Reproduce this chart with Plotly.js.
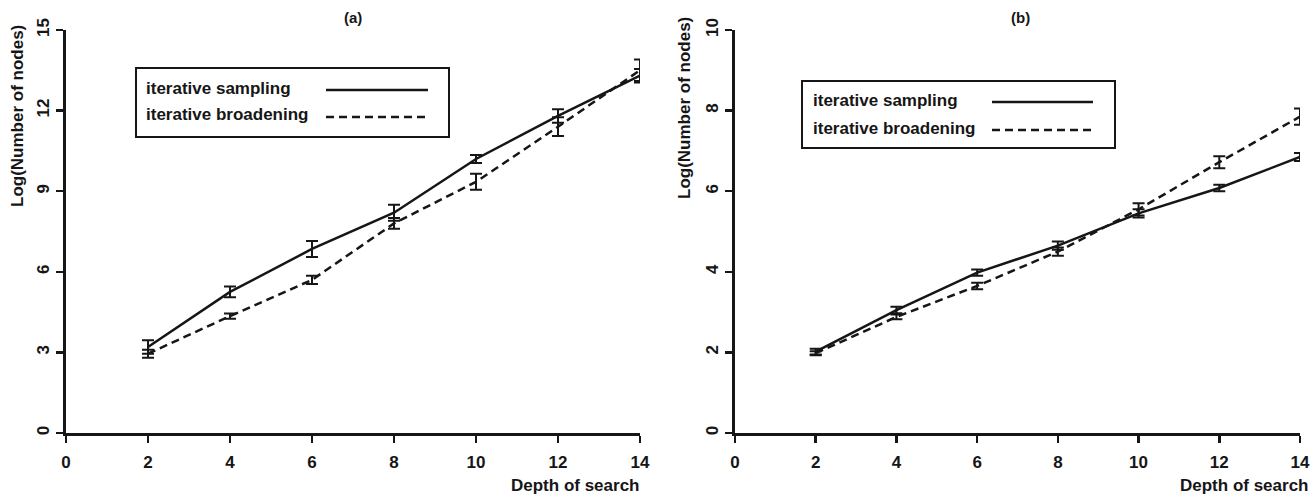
<!DOCTYPE html>
<html>
<head>
<meta charset="utf-8">
<script src="https://cdn.plot.ly/plotly-3.0.1.min.js"></script>
<style>html,body{margin:0;padding:0;background:#fff;} #chart{width:1313px;height:497px;}</style>
</head>
<body>
<div id="chart"></div>
<script>
// ---- data ----
const depth = [2, 4, 6, 8, 10, 12, 14];
const xTicks = [0, 2, 4, 6, 8, 10, 12, 14];

// panel (a)
const aSampling = [3.2, 5.25, 6.85, 8.2, 10.2, 11.8, 13.3];
const aSamplingErr = [0.25, 0.2, 0.3, 0.3, 0.15, 0.25, 0.25];
const aBroadening = [2.95, 4.35, 5.7, 7.8, 9.35, 11.4, 13.5];
const aBroadeningErr = [0.15, 0.1, 0.15, 0.2, 0.3, 0.35, 0.4];
const aYTicks = [0, 3, 6, 9, 12, 15];

// panel (b)
const bSampling = [2.02, 3.05, 3.98, 4.65, 5.45, 6.08, 6.85];
const bSamplingErr = [0.07, 0.08, 0.08, 0.1, 0.1, 0.08, 0.1];
const bBroadening = [1.98, 2.88, 3.65, 4.5, 5.55, 6.72, 7.85];
const bBroadeningErr = [0.05, 0.06, 0.08, 0.1, 0.15, 0.15, 0.2];
const bYTicks = [0, 2, 4, 6, 8, 10];

const seriesNames = ['iterative sampling', 'iterative broadening'];
const panelTitles = ['(a)', '(b)'];
const xTitle = 'Depth of search';
const yTitle = 'Log(Number of nodes)';

// ---- helpers ----
const W = 1313, H = 497;
const px = x => x / W;
const py = y => 1 - y / H;
const INK = '#161616';
const FONT = 'Liberation Sans, Arial, sans-serif';
const FS = 17;
const F = (size) => ({family: FONT, size: size || FS, color: INK, weight: 'bold'});

function mk(x, y, err, dashed, xa, ya) {
  return {
    x: x, y: y, xaxis: xa, yaxis: ya, type: 'scatter', mode: 'lines',
    cliponaxis: false, showlegend: false,
    line: {color: INK, width: 2.5, dash: dashed ? '8px,5px' : 'solid'},
    error_y: {type: 'data', array: err, visible: true, color: INK, thickness: 2, width: 6}
  };
}

const data = [
  mk(depth, aSampling, aSamplingErr, false, 'x', 'y'),
  mk(depth, aBroadening, aBroadeningErr, true, 'x', 'y'),
  mk(depth, bSampling, bSamplingErr, false, 'x2', 'y2'),
  mk(depth, bBroadening, bBroadeningErr, true, 'x2', 'y2')
];

function xAxis(domain, anchor) {
  return {
    domain: domain, anchor: anchor, range: [0, 14], tickvals: xTicks,
    showline: true, linewidth: 3, linecolor: INK, ticks: 'outside', ticklen: 7,
    tickwidth: 2.5, tickcolor: INK, showgrid: false, zeroline: false, ticklabelstandoff: 5,
    tickfont: F(), fixedrange: true
  };
}
function yAxis(domain, anchor, maxv, ticks) {
  return {
    domain: domain, anchor: anchor, range: [0, maxv], tickvals: ticks,
    showline: true, linewidth: 3, linecolor: INK, ticks: 'outside', ticklen: 7,
    tickwidth: 2.5, tickcolor: INK, showgrid: false, zeroline: false, tickangle: -90,
    tickfont: F(), fixedrange: true
  };
}

const yDom = [py(433), py(30)];

function ann(text, x, y, extra) {
  return Object.assign({text: text, x: px(x), y: py(y), xref: 'paper', yref: 'paper',
    xanchor: 'center', yanchor: 'middle', showarrow: false, font: F()}, extra || {});
}

const annotations = [
  ann(panelTitles[0], 353, 17, {font: F(15)}),
  ann(panelTitles[1], 1020, 17, {font: F(15)}),
  ann(xTitle, 641, 485, {xanchor: 'right'}),
  ann(xTitle, 1310, 485, {xanchor: 'right'}),
  ann(yTitle, 18, 116, {textangle: -90}),
  ann(yTitle, 685, 108, {textangle: -90})
];

const shapes = [];
function legend(x0, y0, x1, y1, textX, rowY, lx0, lx1) {
  shapes.push({type: 'rect', xref: 'paper', yref: 'paper', x0: px(x0), x1: px(x1), y0: py(y1), y1: py(y0),
    line: {color: INK, width: 2}, fillcolor: 'rgba(0,0,0,0)'});
  seriesNames.forEach((name, i) => {
    annotations.push(ann(name, textX, rowY[i] - 2, {xanchor: 'left'}));
    shapes.push({type: 'line', xref: 'paper', yref: 'paper', x0: px(lx0), x1: px(lx1), y0: py(rowY[i]), y1: py(rowY[i]),
      line: {color: INK, width: 2.5, dash: i === 0 ? 'solid' : '8px,5px'}});
  });
}
legend(136, 68, 449, 137, 144, [90, 117], 326, 428);
legend(802, 81, 1115, 148, 811, [102, 130], 992, 1093);

const layout = {
  width: W, height: H, margin: {l: 0, r: 0, t: 0, b: 0},
  paper_bgcolor: '#fff', plot_bgcolor: '#fff', showlegend: false,
  xaxis: xAxis([px(66), px(640)], 'y'),
  yaxis: yAxis(yDom, 'x', 15, aYTicks),
  xaxis2: xAxis([px(735), px(1300)], 'y2'),
  yaxis2: yAxis(yDom, 'x2', 10, bYTicks),
  annotations: annotations, shapes: shapes
};

Plotly.newPlot('chart', data, layout, {displayModeBar: false, staticPlot: true});
</script>
</body>
</html>
